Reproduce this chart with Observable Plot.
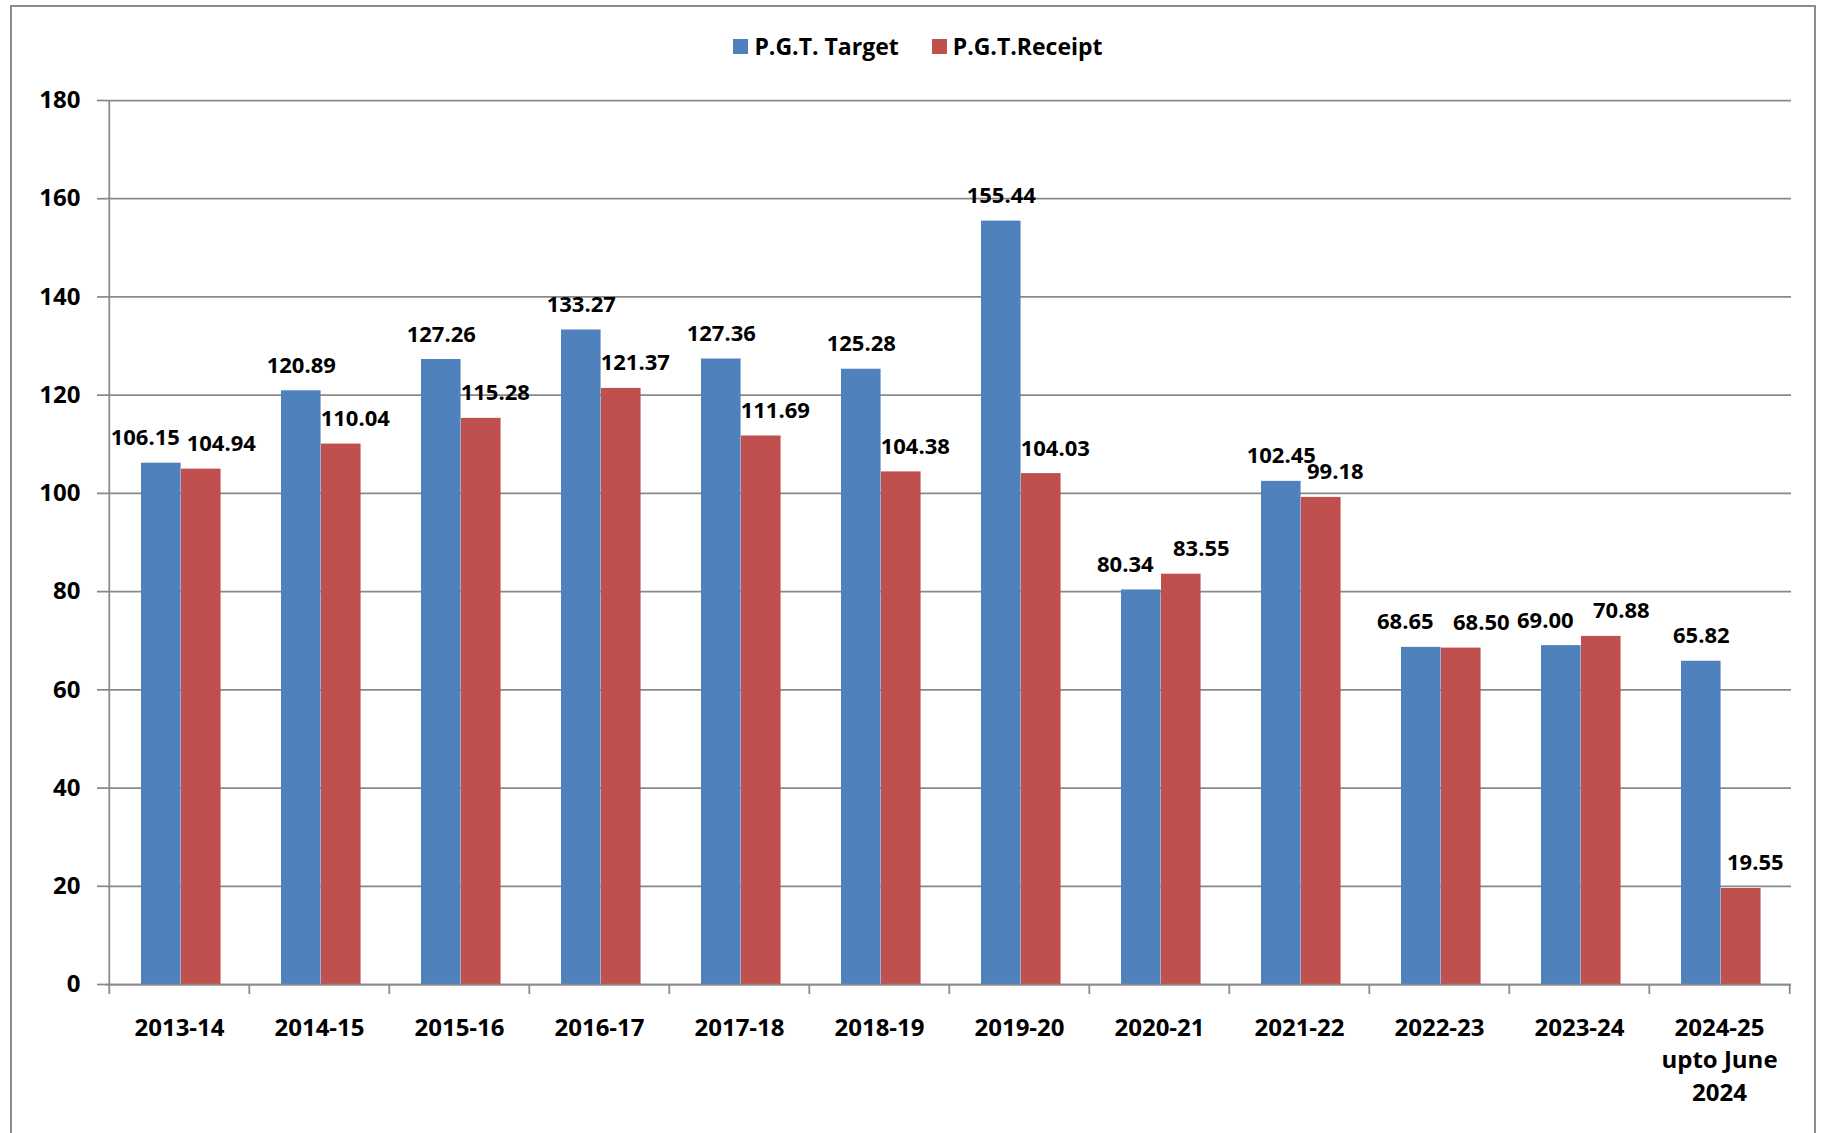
<!DOCTYPE html>
<html>
<head>
<meta charset="utf-8">
<script src="https://cdn.jsdelivr.net/npm/d3@7"></script>
<script src="https://cdn.jsdelivr.net/npm/@observablehq/plot@0.6"></script>
<style>
  html, body { margin: 0; padding: 0; background: #fff; overflow: hidden; }
  body { width: 1826px; height: 1133px; position: relative; font-family: "Open Sans", sans-serif; }
  #frame { position: absolute; left: 10px; top: 5px; width: 1806px; height: 1200px; border: 2px solid #8c8c8c; box-sizing: border-box; pointer-events: none; }
  #legend { height: 80px; box-sizing: border-box; padding-top: 30px; padding-left: 10px; display: flex; justify-content: center; align-items: flex-start; font-size: 23px; font-weight: bold; line-height: 32px; color: #000; }
  .item { display: flex; align-items: center; }
  .item + .item { margin-left: 33px; }
  .sw { width: 15px; height: 15px; margin-right: 6px; display: inline-block; }
  #chart svg { display: block; }
</style>
</head>
<body>
<div id="frame"></div>
<div id="legend"></div>
<div id="chart"></div>
<script>
// ---- data ----
const categories = ["2013-14","2014-15","2015-16","2016-17","2017-18","2018-19","2019-20","2020-21","2021-22","2022-23","2023-24","2024-25"];
const xTickLabels = ["2013-14","2014-15","2015-16","2016-17","2017-18","2018-19","2019-20","2020-21","2021-22","2022-23","2023-24","2024-25\nupto June\n2024"];
const targetValues = [106.15,120.89,127.26,133.27,127.36,125.28,155.44,80.34,102.45,68.65,69.00,65.82];
const receiptValues = [104.94,110.04,115.28,121.37,111.69,104.38,104.03,83.55,99.18,68.50,70.88,19.55];
const seriesNames = ["P.G.T. Target","P.G.T.Receipt"];
const seriesColors = ["#4F81BD","#C0504D"];
const yTicks = [0,20,40,60,80,100,120,140,160,180];

// ---- legend ----
const legend = document.getElementById("legend");
seriesNames.forEach((name, i) => {
  const it = document.createElement("div");
  it.className = "item";
  const sw = document.createElement("span");
  sw.className = "sw";
  sw.style.background = seriesColors[i];
  it.appendChild(sw);
  it.appendChild(document.createTextNode(name));
  legend.appendChild(it);
});

// ---- chart ----
const W = 1826, H = 1053, ML = 106, MR = 35, MT = 20, MB = 149;
const bw = (W - ML - MR) / categories.length;
const pxPerUnit = (H - MT - MB) / 180;
const labelH = 16; // px height of a value label
const gray = "#898989";
const fmt = d3.format(".2f");
const labelMap = new Map(categories.map((c, i) => [c, xTickLabels[i]]));

const rows = categories.map((c, i) => ({
  category: c,
  target: targetValues[i],
  receipt: receiptValues[i],
  close: Math.abs(targetValues[i] - receiptValues[i]) * pxPerUnit < labelH
}));

const blueCenter = 52 - bw / 2;   // offset of blue bar centre from band centre
const redCenter = 92 - bw / 2;    // offset of red bar centre from band centre
const labelStyle = {fontSize: 22, fontWeight: "bold", fill: "#000", lineAnchor: "bottom", dy: -18};

const chart = Plot.plot({
  width: W, height: H,
  marginLeft: ML, marginRight: MR, marginTop: MT, marginBottom: MB,
  style: {fontFamily: "'Open Sans', sans-serif", color: "#000", background: "transparent"},
  x: {type: "band", domain: categories, padding: 0, label: null},
  y: {domain: [0, 180], label: null},
  marks: [
    Plot.gridY(yTicks, {stroke: gray, strokeOpacity: 1, strokeWidth: 1.75}),
    Plot.barY(rows, {x: "category", y: "target", fill: seriesColors[0], insetLeft: 32, insetRight: bw - 72}),
    Plot.barY(rows, {x: "category", y: "receipt", fill: seriesColors[1], insetLeft: 72, insetRight: bw - 112}),
    // axis lines
    Plot.ruleY([0], {stroke: gray, strokeWidth: 1.75}),
    Plot.ruleX([categories[0]], {y1: 0, y2: 180, dx: -bw / 2, stroke: gray, strokeWidth: 1.75}),
    // category boundary ticks
    Plot.ruleX(categories, {x: d => d, y1: 0, y2: 0, insetBottom: -10, dx: -bw / 2, stroke: gray, strokeWidth: 1.75}),
    Plot.ruleX([categories[categories.length - 1]], {y1: 0, y2: 0, insetBottom: -10, dx: bw / 2, stroke: gray, strokeWidth: 1.75}),
    Plot.axisY({ticks: yTicks, tickSize: 9, tickPadding: 17, stroke: gray, strokeWidth: 1.75, fontSize: 24, fontWeight: "bold", fill: "#000", tickFormat: d3.format("d"), label: null}),
    Plot.axisX({tickSize: 0, tickPadding: 28, fontSize: 24, fontWeight: "bold", fill: "#000", lineHeight: 1.36, tickFormat: d => labelMap.get(d), label: null}),
    // value labels
    Plot.text(rows.filter(d => !d.close), {x: "category", y: "target", text: d => fmt(d.target), dx: blueCenter, ...labelStyle}),
    Plot.text(rows.filter(d => d.close), {x: "category", y: "target", text: d => fmt(d.target), dx: blueCenter - 16, ...labelStyle}),
    Plot.text(rows.filter(d => !d.close), {x: "category", y: "receipt", text: d => fmt(d.receipt), dx: redCenter + 14, ...labelStyle}),
    Plot.text(rows.filter(d => d.close), {x: "category", y: "receipt", text: d => fmt(d.receipt), dx: redCenter + 20, ...labelStyle})
  ]
});
document.getElementById("chart").appendChild(chart);
</script>
</body>
</html>
